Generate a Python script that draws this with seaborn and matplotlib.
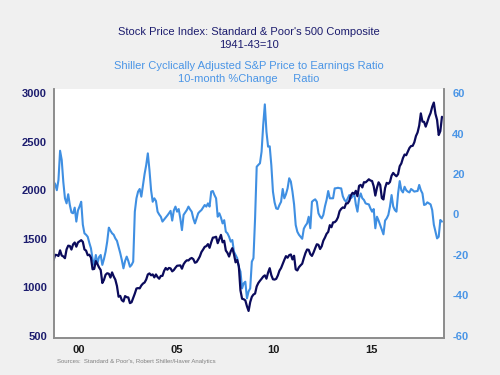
import numpy as np
import pandas as pd
import matplotlib
matplotlib.use("Agg")
import matplotlib.pyplot as plt
import seaborn as sns

# monthly data, Mar 1999 .. Feb 2019
start_year = 1999
start_month = 3

sp500 = [
    1281.7, 1334.8, 1332.1, 1322.6, 1380.9, 1327.5, 1318.2, 1300.0, 1391.0, 1428.7,
    1425.6, 1388.9, 1442.2, 1461.4, 1418.5, 1461.8, 1473.0, 1485.5, 1468.1, 1390.1, 1378.0, 1330.9,
    1335.6, 1305.8, 1185.9, 1189.8, 1270.4, 1238.7, 1204.5, 1178.5, 1044.6, 1076.6, 1129.7, 1144.9,
    1140.2, 1100.7, 1153.8, 1112.0, 1079.3, 1014.0, 903.6, 912.6, 867.8, 854.6, 909.9, 899.2,
    895.8, 837.6, 846.6, 890.0, 935.9, 988.0, 992.5, 989.5, 1019.4, 1038.7, 1049.9, 1080.6,
    1132.5, 1143.4, 1124.0, 1133.1, 1102.8, 1132.8, 1105.8, 1088.9, 1117.7, 1118.1, 1168.9, 1199.2,
    1181.4, 1199.6, 1194.9, 1164.4, 1178.3, 1202.3, 1222.2, 1224.3, 1225.9, 1191.9, 1237.4, 1262.1,
    1278.7, 1276.6, 1293.7, 1302.2, 1290.0, 1253.1, 1260.2, 1287.2, 1317.8, 1363.4, 1388.6, 1416.4,
    1424.2, 1444.8, 1406.8, 1463.6, 1511.1, 1514.5, 1520.7, 1454.6, 1497.1, 1539.7, 1463.4, 1479.2,
    1378.8, 1354.9, 1316.9, 1370.5, 1403.2, 1341.3, 1257.3, 1281.5, 1217.0, 968.8, 883.0, 877.6,
    865.6, 805.2, 757.1, 848.2, 902.4, 926.1, 935.8, 1009.7, 1044.6, 1067.7, 1088.1, 1110.4,
    1123.6, 1089.2, 1152.0, 1197.3, 1125.1, 1083.4, 1079.8, 1087.3, 1122.1, 1171.6, 1198.9, 1241.5,
    1282.6, 1321.1, 1304.5, 1331.5, 1338.3, 1287.3, 1325.2, 1185.3, 1173.9, 1207.2, 1226.4, 1243.3,
    1300.6, 1352.5, 1389.2, 1386.4, 1341.3, 1323.5, 1359.8, 1403.4, 1443.4, 1437.8, 1394.5, 1422.3,
    1480.4, 1512.3, 1550.8, 1570.7, 1639.8, 1618.8, 1668.7, 1670.1, 1687.2, 1720.0, 1783.5, 1807.8,
    1822.4, 1817.0, 1863.5, 1864.3, 1889.8, 1947.1, 1973.1, 1961.5, 1993.2, 1937.3, 2044.6, 2054.3,
    2028.2, 2082.2, 2079.9, 2094.9, 2111.9, 2099.3, 2094.1, 2039.9, 1944.4, 2024.8, 2080.6, 2054.1,
    1918.6, 1904.4, 2022.0, 2075.5, 2065.6, 2083.9, 2148.9, 2177.5, 2157.7, 2143.0, 2165.0, 2246.6,
    2275.1, 2329.9, 2366.8, 2359.3, 2395.3, 2434.0, 2454.1, 2456.2, 2492.8, 2557.0, 2593.6, 2664.3,
    2789.8, 2705.2, 2702.8, 2653.6, 2701.5, 2754.4, 2793.6, 2857.8, 2901.5, 2785.5, 2723.2, 2567.3,
    2607.4, 2754.9,
]

cape_chg = [
    16.2, 15.0, 12.0, 17.0, 31.5, 27.0, 16.0, 8.0, 5.5, 10.0,
    4.7, 1.0, 0.6, 3.4, -3.5, 2.0, 4.0, 6.3, -5.0, -9.3, -10.0, -11.0,
    -14.0, -16.7, -22.0, -24.9, -20.0, -24.1, -21.0, -20.0, -24.9, -22.0, -18.4, -13.4,
    -6.5, -8.0, -9.3, -10.0, -11.8, -13.0, -15.9, -19.0, -22.5, -26.6, -23.0, -20.8,
    -23.0, -25.8, -24.9, -23.3, 1.4, 8.0, 11.3, 12.6, 8.8, 14.6, 20.0, 24.4,
    30.2, 22.0, 12.0, 6.3, 8.0, 6.7, 1.4, 0.0, -1.1, -3.5, -2.5, -1.5,
    -0.5, 0.6, 1.8, -3.0, 2.0, 3.9, 1.4, 2.7, -2.0, -7.7, -0.2, 1.0,
    2.2, 3.9, 2.5, 1.4, -2.0, -4.4, -1.9, 0.6, 1.5, 2.2, 3.5, 4.7,
    3.9, 5.5, 3.9, 11.3, 11.6, 9.6, 8.0, -1.1, 0.6, -1.5, -4.4, -2.8,
    -8.5, -9.3, -11.0, -13.4, -12.6, -18.4, -20.0, -21.6, -26.0, -28.2, -36.5, -34.0,
    -33.2, -41.4, -38.0, -36.5, -23.3, -21.6, -1.9, 23.6, 24.5, 25.3, 31.0, 44.2,
    54.4, 40.9, 33.5, 33.7, 24.4, 11.3, 6.0, 3.0, 2.7, 4.7, 6.3, 12.6,
    8.0, 10.0, 12.9, 17.9, 16.3, 11.3, 5.0, -5.2, -8.5, -10.0, -11.0, -12.0,
    -7.0, -5.5, -4.4, -1.1, -6.8, 6.3, 7.0, 7.5, 6.3, 0.6, -1.0, -1.9,
    -0.2, 4.0, 7.2, 11.6, 8.0, 8.0, 8.0, 12.9, 13.0, 13.2, 13.0, 12.9,
    9.0, 7.2, 6.3, 8.0, 9.6, 8.0, 9.0, 10.4, 5.0, 1.4, 8.0, 10.4,
    8.0, 7.2, 5.5, 5.2, 5.0, 3.0, 1.4, 2.7, -6.8, -1.1, -3.0, -5.2,
    -7.5, -9.8, -3.0, -1.9, -0.2, 3.9, 9.6, 4.0, 2.2, 1.4, 10.4, 16.5,
    12.0, 10.9, 13.7, 12.0, 11.3, 10.9, 12.6, 12.0, 11.3, 11.5, 11.6, 14.6,
    12.0, 10.4, 4.7, 5.0, 6.0, 5.5, 5.0, 2.2, -5.0, -8.5, -11.8, -11.0,
    -2.7, -3.5,
]

left_ticks = [500, 1000, 1500, 2000, 2500, 3000]
right_ticks = [-60, -40, -20, 0, 20, 40, 60]
year_labels = ["00", "05", "10", "15"]
label_years = [2000, 2005, 2010, 2015]

navy = "#0b0b5c"
navy_text = "#1c1c6e"
lightblue = "#3f8fe2"
lightblue_text = "#4a95e6"

# mid-month positions as decimal years
months = np.arange(len(sp500))
t = start_year + (start_month - 1 + months + 0.5) / 12.0
df = pd.DataFrame({"t": t, "sp500": sp500, "cape": cape_chg})

sns.set_style("white")
plt.rcParams["font.family"] = ["Liberation Sans", "DejaVu Sans"]

fig = plt.figure(figsize=(5, 3.75), dpi=100, facecolor="#f0f0f0")
ax = fig.add_axes([0.108, 0.0987, 0.78, 0.664])
ax.set_facecolor("white")
ax2 = ax.twinx()

sns.lineplot(data=df, x="t", y="cape", ax=ax2, color=lightblue, linewidth=1.5)
sns.lineplot(data=df, x="t", y="sp500", ax=ax, color=navy, linewidth=1.6)
ax.set_zorder(ax2.get_zorder() + 1)
ax.patch.set_visible(False)
ax2.patch.set_visible(True)
ax2.set_facecolor("white")

ax.set_xlim(1999.23, 2019.23)
ax.set_ylim(479, 3041)
ax2.set_ylim(-61, 62)

ax.set_yticks(left_ticks)
ax.set_yticklabels([str(v) for v in left_ticks], color=navy_text, fontsize=8, fontweight="bold")
ax2.set_yticks(right_ticks)
ax2.set_yticklabels([str(v) for v in right_ticks], color=lightblue_text, fontsize=8,
                    fontweight="bold")
ax.tick_params(axis="y", length=0, pad=5)
ax2.tick_params(axis="y", length=0, pad=6)

ax.set_xticks(np.arange(2000, 2020))
ax.set_xticklabels([])
ax.set_xticks([y + 0.5 for y in label_years], minor=True)
ax.set_xticklabels(year_labels, minor=True, fontsize=8, color="#1a1a1a", fontweight="bold")
ax.tick_params(axis="x", which="major", length=4, width=1, color="#909090", direction="out")
ax.tick_params(axis="x", which="minor", length=0, pad=5)

ax.set_xlabel("")
ax.set_ylabel("")
ax2.set_ylabel("")

for a in (ax, ax2):
    a.spines["top"].set_visible(False)
    for s in ("left", "right", "bottom"):
        a.spines[s].set_color("#8c8c8c")
        a.spines[s].set_linewidth(1.2)
    a.grid(False)

fig.text(0.498, 0.915, "Stock Price Index: Standard & Poor's 500 Composite",
         ha="center", va="center", fontsize=8, color=navy_text)
fig.text(0.498, 0.881, "1941-43=10", ha="center", va="center", fontsize=8, color=navy_text)
fig.text(0.498, 0.824, "Shiller Cyclically Adjusted S&P Price to Earnings Ratio",
         ha="center", va="center", fontsize=8, color=lightblue_text)
fig.text(0.498, 0.788, "10-month %Change     Ratio", ha="center", va="center",
         fontsize=8, color=lightblue_text)
fig.text(0.114, 0.037, "Sources:  Standard & Poor's, Robert Shiller/Haver Analytics",
         ha="left", va="center", fontsize=4.3, color="#808080")

fig.savefig("out.png", dpi=100, facecolor=fig.get_facecolor())
